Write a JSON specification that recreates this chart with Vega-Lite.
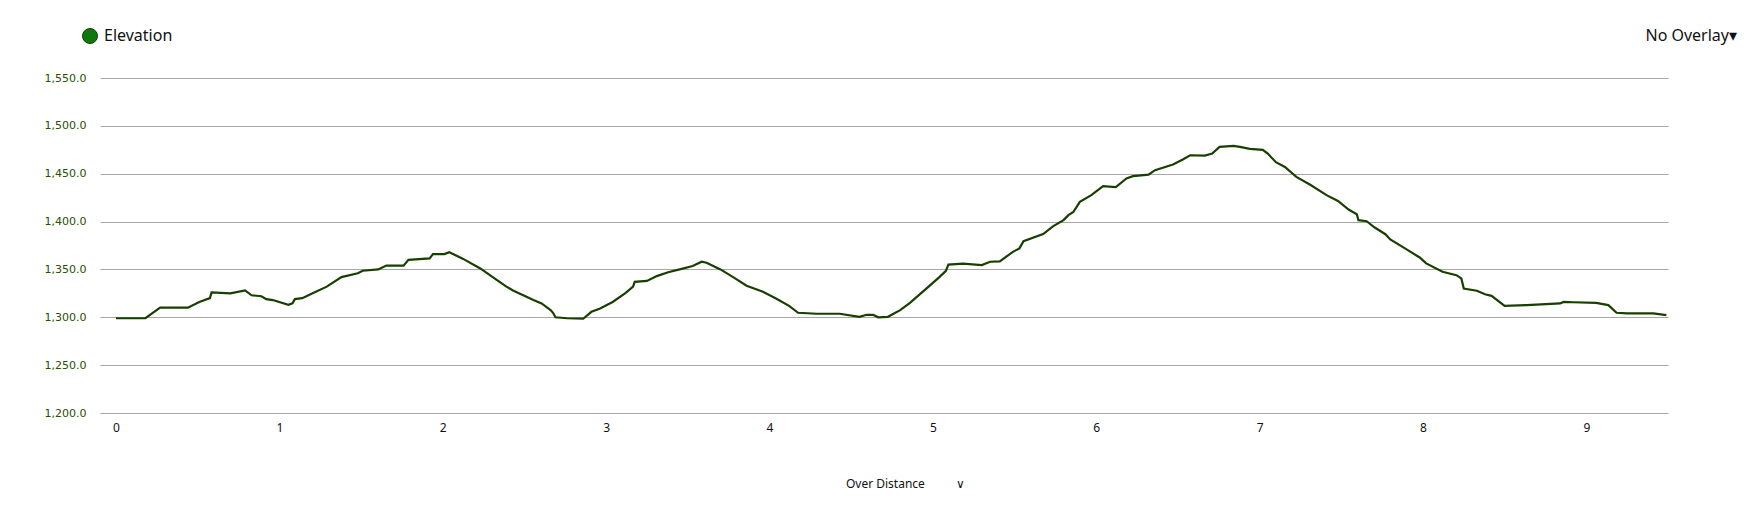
{
  "$schema": "https://vega.github.io/schema/vega-lite/v6.json",
  "autosize": "none",
  "width": 1568,
  "height": 335,
  "padding": {"left": 100, "top": 78, "right": 78, "bottom": 94},
  "background": "white",
  "title": {
    "text": "No Overlay\u25be",
    "anchor": "end",
    "frame": "group",
    "orient": "top",
    "dx": 69,
    "offset": -16,
    "font": "Noto Sans",
    "fontSize": 16,
    "fontWeight": "normal",
    "color": "#111111"
  },
  "data": {
    "values": [
      {"d": 0, "e": 1299}, {"d": 0.18, "e": 1299}, {"d": 0.27, "e": 1310}, {"d": 0.44, "e": 1310},
      {"d": 0.51, "e": 1316}, {"d": 0.575, "e": 1320}, {"d": 0.585, "e": 1326}, {"d": 0.70, "e": 1325},
      {"d": 0.79, "e": 1328}, {"d": 0.83, "e": 1323}, {"d": 0.89, "e": 1322}, {"d": 0.92, "e": 1319},
      {"d": 0.96, "e": 1318}, {"d": 1.055, "e": 1313}, {"d": 1.08, "e": 1314.5}, {"d": 1.095, "e": 1319},
      {"d": 1.14, "e": 1320}, {"d": 1.21, "e": 1325.6}, {"d": 1.29, "e": 1332}, {"d": 1.38, "e": 1342},
      {"d": 1.48, "e": 1346}, {"d": 1.51, "e": 1348.6}, {"d": 1.605, "e": 1350}, {"d": 1.655, "e": 1354},
      {"d": 1.76, "e": 1354}, {"d": 1.79, "e": 1360}, {"d": 1.92, "e": 1361.5}, {"d": 1.94, "e": 1366},
      {"d": 2.01, "e": 1366}, {"d": 2.04, "e": 1368}, {"d": 2.125, "e": 1361}, {"d": 2.23, "e": 1351},
      {"d": 2.33, "e": 1339}, {"d": 2.39, "e": 1332}, {"d": 2.43, "e": 1328}, {"d": 2.555, "e": 1318},
      {"d": 2.605, "e": 1314.5}, {"d": 2.66, "e": 1307.5}, {"d": 2.675, "e": 1304.7}, {"d": 2.69, "e": 1300},
      {"d": 2.76, "e": 1299}, {"d": 2.86, "e": 1298.5}, {"d": 2.91, "e": 1305.7}, {"d": 2.96, "e": 1309},
      {"d": 3.04, "e": 1316}, {"d": 3.12, "e": 1325.6}, {"d": 3.165, "e": 1332}, {"d": 3.175, "e": 1337},
      {"d": 3.25, "e": 1338}, {"d": 3.31, "e": 1343}, {"d": 3.38, "e": 1347}, {"d": 3.45, "e": 1350},
      {"d": 3.53, "e": 1353.5}, {"d": 3.585, "e": 1358}, {"d": 3.615, "e": 1357}, {"d": 3.70, "e": 1350},
      {"d": 3.78, "e": 1341.7}, {"d": 3.86, "e": 1333}, {"d": 3.96, "e": 1326.6}, {"d": 4.04, "e": 1319.7},
      {"d": 4.12, "e": 1312}, {"d": 4.175, "e": 1304.7}, {"d": 4.29, "e": 1303.7}, {"d": 4.43, "e": 1303.7},
      {"d": 4.55, "e": 1300.5}, {"d": 4.595, "e": 1302.6}, {"d": 4.635, "e": 1302.6}, {"d": 4.665, "e": 1300},
      {"d": 4.725, "e": 1300.5}, {"d": 4.80, "e": 1307.5}, {"d": 4.86, "e": 1315}, {"d": 4.96, "e": 1330},
      {"d": 5.04, "e": 1342}, {"d": 5.08, "e": 1348.5}, {"d": 5.095, "e": 1355}, {"d": 5.185, "e": 1356},
      {"d": 5.30, "e": 1354.5}, {"d": 5.35, "e": 1358}, {"d": 5.41, "e": 1358.5}, {"d": 5.49, "e": 1368.4},
      {"d": 5.53, "e": 1372}, {"d": 5.555, "e": 1379.5}, {"d": 5.675, "e": 1387}, {"d": 5.735, "e": 1395},
      {"d": 5.80, "e": 1401.5}, {"d": 5.83, "e": 1406.7}, {"d": 5.86, "e": 1410}, {"d": 5.90, "e": 1420.6},
      {"d": 5.97, "e": 1427.6}, {"d": 6.042, "e": 1437}, {"d": 6.12, "e": 1436}, {"d": 6.185, "e": 1445},
      {"d": 6.225, "e": 1447.4}, {"d": 6.32, "e": 1449}, {"d": 6.36, "e": 1453.7}, {"d": 6.47, "e": 1459.6},
      {"d": 6.53, "e": 1464.8}, {"d": 6.575, "e": 1469.3}, {"d": 6.665, "e": 1469}, {"d": 6.71, "e": 1471},
      {"d": 6.755, "e": 1478}, {"d": 6.84, "e": 1479}, {"d": 6.88, "e": 1478}, {"d": 6.94, "e": 1476},
      {"d": 7.02, "e": 1475}, {"d": 7.05, "e": 1471}, {"d": 7.10, "e": 1462}, {"d": 7.155, "e": 1457},
      {"d": 7.225, "e": 1446.7}, {"d": 7.31, "e": 1438.5}, {"d": 7.41, "e": 1427.6}, {"d": 7.48, "e": 1421.6},
      {"d": 7.545, "e": 1412.6}, {"d": 7.595, "e": 1407.7}, {"d": 7.605, "e": 1401.5}, {"d": 7.655, "e": 1400.4},
      {"d": 7.705, "e": 1393.8}, {"d": 7.77, "e": 1386.8}, {"d": 7.80, "e": 1381.3}, {"d": 7.90, "e": 1370.9},
      {"d": 7.98, "e": 1362.5}, {"d": 8.02, "e": 1356.3}, {"d": 8.12, "e": 1347.5}, {"d": 8.205, "e": 1344},
      {"d": 8.235, "e": 1340.6}, {"d": 8.25, "e": 1330}, {"d": 8.33, "e": 1327.7}, {"d": 8.38, "e": 1324},
      {"d": 8.42, "e": 1322.4}, {"d": 8.50, "e": 1312}, {"d": 8.635, "e": 1312.7}, {"d": 8.84, "e": 1314.5},
      {"d": 8.86, "e": 1316}, {"d": 8.92, "e": 1315.7}, {"d": 9.06, "e": 1315}, {"d": 9.135, "e": 1312.7},
      {"d": 9.185, "e": 1304.7}, {"d": 9.25, "e": 1304}, {"d": 9.41, "e": 1304}, {"d": 9.49, "e": 1302.3}
    ]
  },
  "transform": [{"calculate": "'Elevation'", "as": "series"}],
  "mark": {"type": "line", "strokeWidth": 2.2, "interpolate": "linear", "clip": false},
  "encoding": {
    "x": {
      "field": "d",
      "type": "quantitative",
      "scale": {"domain": [-0.098, 9.5], "nice": false, "zero": false},
      "axis": {
        "values": [0, 1, 2, 3, 4, 5, 6, 7, 8, 9],
        "format": "d",
        "grid": false,
        "domain": false,
        "ticks": false,
        "labelPadding": 9,
        "labelFont": "Noto Sans",
        "labelFontSize": 12,
        "labelColor": "#111111",
        "title": "Over Distance\u00a0\u00a0\u00a0\u00a0\u00a0\u00a0\u00a0\u00a0\u00a0\u00a0\u2228",
        "titleFont": "Noto Sans",
        "titleFontSize": 12,
        "titleFontWeight": "normal",
        "titleColor": "#111111",
        "titleX": 805,
        "titleY": 70,
        "titleAlign": "center",
        "titleBaseline": "middle"
      }
    },
    "y": {
      "field": "e",
      "type": "quantitative",
      "scale": {"domain": [1200, 1550], "nice": false, "zero": false},
      "axis": {
        "values": [1200, 1250, 1300, 1350, 1400, 1450, 1500, 1550],
        "format": ",.1f",
        "grid": true,
        "gridColor": "#a6a6a6",
        "gridWidth": 1,
        "domain": false,
        "ticks": false,
        "labelPadding": 14,
        "labelFont": "DejaVu Sans",
        "labelFontSize": 11,
        "labelColor": "#285200",
        "title": null
      }
    },
    "color": {
      "field": "series",
      "type": "nominal",
      "scale": {"domain": ["Elevation"], "range": ["#183f00"]},
      "legend": {
        "orient": "none",
        "legendX": -18,
        "legendY": -50,
        "title": null,
        "symbolType": "circle",
        "symbolSize": 225,
        "labelFont": "Noto Sans",
        "labelFontSize": 16,
        "labelColor": "#111111",
        "labelOffset": 6,
        "encode": {
          "symbols": {"update": {"fill": {"value": "#0f780f"}, "stroke": {"value": "#0a4d0a"}, "strokeWidth": {"value": 1}}}
        }
      }
    }
  },
  "config": {"view": {"stroke": null}}
}
